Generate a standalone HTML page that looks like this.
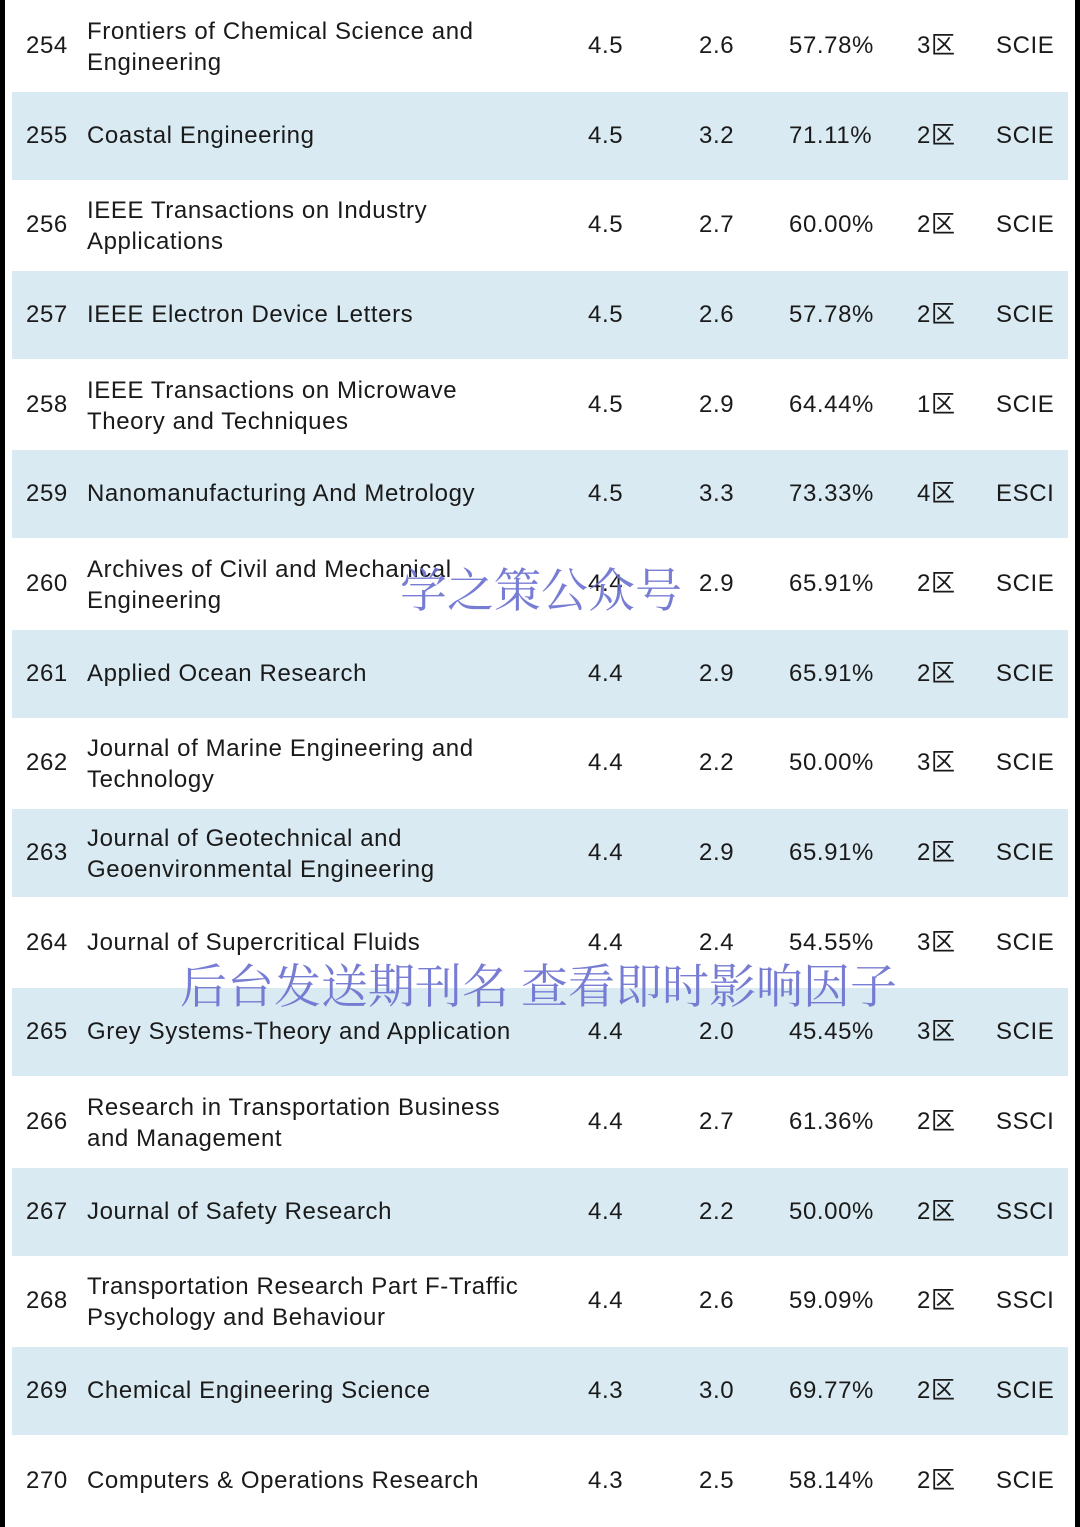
<!DOCTYPE html>
<html><head><meta charset="utf-8"><style>
html,body{margin:0;padding:0}
body{width:1080px;height:1527px;position:relative;background:#fff;overflow:hidden;font-family:"Liberation Sans","Noto Sans CJK SC",sans-serif;color:#1a1a1a;font-size:24px;letter-spacing:0.6px}
.bl{position:absolute;top:0;width:5px;height:1527px;background:#000}
.band{position:absolute;left:12px;width:1056px;height:88px;background:#d9eaf2}
.r{position:absolute;left:0;width:1080px;height:0}
.r span{position:absolute;top:-14px;white-space:nowrap;line-height:28px}
.r span.t2{top:-30px;line-height:31px}
.wm{position:absolute;font-family:"Noto Serif CJK SC",serif;color:#6a6fd0;opacity:.9;white-space:nowrap;letter-spacing:0}
</style></head><body>
<div class="bl" style="left:0"></div><div class="bl" style="left:1075px"></div>
<div id="c"></div>
<div class="wm" style="left:400px;top:554px;font-size:47px">学之策公众号</div>
<div class="wm" style="left:180px;top:950px;font-size:47px">后台发送期刊名 查看即时影响因子</div>
<script>
var d=[
["254","Frontiers of Chemical Science and<br>Engineering","4.5","2.6","57.78%","3","SCIE"],
["255","Coastal Engineering","4.5","3.2","71.11%","2","SCIE"],
["256","IEEE Transactions on Industry<br>Applications","4.5","2.7","60.00%","2","SCIE"],
["257","IEEE Electron Device Letters","4.5","2.6","57.78%","2","SCIE"],
["258","IEEE Transactions on Microwave<br>Theory and Techniques","4.5","2.9","64.44%","1","SCIE"],
["259","Nanomanufacturing And Metrology","4.5","3.3","73.33%","4","ESCI"],
["260","Archives of Civil and Mechanical<br>Engineering","4.4","2.9","65.91%","2","SCIE"],
["261","Applied Ocean Research","4.4","2.9","65.91%","2","SCIE"],
["262","Journal of Marine Engineering and<br>Technology","4.4","2.2","50.00%","3","SCIE"],
["263","Journal of Geotechnical and<br>Geoenvironmental Engineering","4.4","2.9","65.91%","2","SCIE"],
["264","Journal of Supercritical Fluids","4.4","2.4","54.55%","3","SCIE"],
["265","Grey Systems-Theory and Application","4.4","2.0","45.45%","3","SCIE"],
["266","Research in Transportation Business<br>and Management","4.4","2.7","61.36%","2","SSCI"],
["267","Journal of Safety Research","4.4","2.2","50.00%","2","SSCI"],
["268","Transportation Research Part F-Traffic<br>Psychology and Behaviour","4.4","2.6","59.09%","2","SSCI"],
["269","Chemical Engineering Science","4.3","3.0","69.77%","2","SCIE"],
["270","Computers &amp; Operations Research","4.3","2.5","58.14%","2","SCIE"]];
var h="";
d.forEach(function(r,i){var cy=46+i*89.67;
if(i%2==1)h+='<div class="band" style="top:'+(cy-44)+'px"></div>';
h+='<div class="r" style="top:'+cy+'px"><span style="left:26px">'+r[0]+'</span><span class="'+(r[1].indexOf("<br>")>0?"t2":"")+'" style="left:87px">'+r[1]+'</span><span style="left:588px">'+r[2]+'</span><span style="left:699px">'+r[3]+'</span><span style="left:789px">'+r[4]+'</span><span style="left:917px">'+r[5]+'区</span><span style="left:996px">'+r[6]+'</span></div>';});
document.getElementById("c").innerHTML=h;
</script>
</body></html>
